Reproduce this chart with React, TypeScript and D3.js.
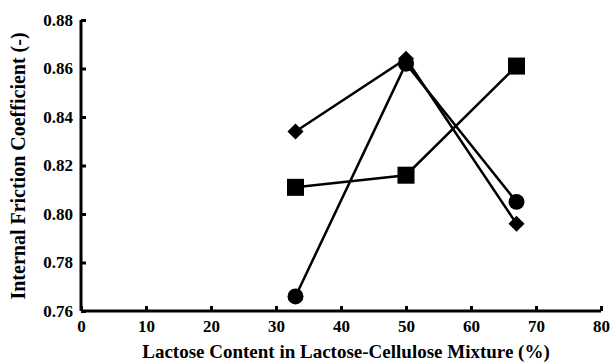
import React, { useRef, useEffect } from 'react';
import * as d3 from 'd3';

const lactoseContent = [33, 50, 67];
const diamondSeries = [0.834, 0.864, 0.796];
const squareSeries = [0.811, 0.816, 0.861];
const circleSeries = [0.766, 0.862, 0.805];
const xTicks = [0, 10, 20, 30, 40, 50, 60, 70, 80];
const yTicks = [0.76, 0.78, 0.8, 0.82, 0.84, 0.86, 0.88];

const App = () => {
  const d3Container = useRef<SVGSVGElement | null>(null);

  useEffect(() => {
    if (!d3Container.current) return;
    const root = d3.select(d3Container.current);
    root.selectAll('*').remove();

    const W = 613;
    const H = 363;
    const margin = { top: 20, right: 12, bottom: 52, left: 81 };
    const width = W - margin.left - margin.right;
    const height = H - margin.top - margin.bottom;
    const font = 'Liberation Serif';

    const svg = root.append('g')
      .attr('transform', `translate(${margin.left},${margin.top})`);

    const x = d3.scaleLinear().domain([0, 80]).range([0, width]);
    const y = d3.scaleLinear().domain([0.76, 0.88]).range([height, 0]);

    // axes
    const xAxis = svg.append('g')
      .attr('transform', `translate(0,${height})`)
      .call(d3.axisBottom(x).tickValues(xTicks).tickSize(-5).tickPadding(9).tickFormat(d3.format('d')));
    const yAxis = svg.append('g')
      .call(d3.axisLeft(y).tickValues(yTicks).tickSize(-5).tickPadding(8).tickFormat(d3.format('.2f')));

    [xAxis, yAxis].forEach(g => {
      g.attr('font-family', font).attr('font-size', 17).attr('font-weight', 'bold');
      g.select('.domain').attr('stroke', '#000').attr('stroke-width', 3);
      g.selectAll('.tick line').attr('stroke', '#000').attr('stroke-width', 3);
      g.selectAll('.tick text')
        .attr('fill', '#000')
        .style('font-family', font)
        .style('font-weight', 'bold')
        .style('font-size', '17px');
    });
    xAxis.select('.domain').attr('d', `M0,0H${width}`);
    yAxis.select('.domain').attr('d', `M0,0V${height}`);

    // axis titles
    svg.append('text')
      .attr('x', width / 2 + 5)
      .attr('y', height + 47)
      .attr('text-anchor', 'middle')
      .style('font-family', font)
      .style('font-weight', 'bold')
      .style('font-size', '19px')
      .text('Lactose Content in Lactose-Cellulose Mixture (%)');

    svg.append('text')
      .attr('transform', `translate(${-margin.left + 25},${166 - margin.top}) rotate(-90)`)
      .attr('text-anchor', 'middle')
      .style('font-family', font)
      .style('font-weight', 'bold')
      .style('font-size', '20px')
      .text('Internal Friction Coefficient (-)');

    const line = d3.line<[number, number]>()
      .x(d => x(d[0]))
      .y(d => y(d[1]));

    const series = [
      { values: diamondSeries, symbol: d3.symbolSquare, size: 130, rotate: 45 },
      { values: squareSeries, symbol: d3.symbolSquare, size: 290, rotate: 0 },
      { values: circleSeries, symbol: d3.symbolCircle, size: 200, rotate: 0 },
    ];

    series.forEach(s => {
      const pts = lactoseContent.map((c, i) => [c, s.values[i]] as [number, number]);
      svg.append('path')
        .datum(pts)
        .attr('fill', 'none')
        .attr('stroke', '#000')
        .attr('stroke-width', 2.5)
        .attr('d', line);
      svg.selectAll(null)
        .data(pts)
        .enter()
        .append('path')
        .attr('transform', d => `translate(${x(d[0])},${y(d[1])}) rotate(${s.rotate})`)
        .attr('d', d3.symbol().type(s.symbol).size(s.size)())
        .attr('fill', '#000');
    });
  }, []);

  return (
    <svg
      ref={d3Container}
      width={613}
      height={363}
      style={{ position: 'absolute', left: 0, top: 0, background: '#fff' }}
    />
  );
};

export default App;
